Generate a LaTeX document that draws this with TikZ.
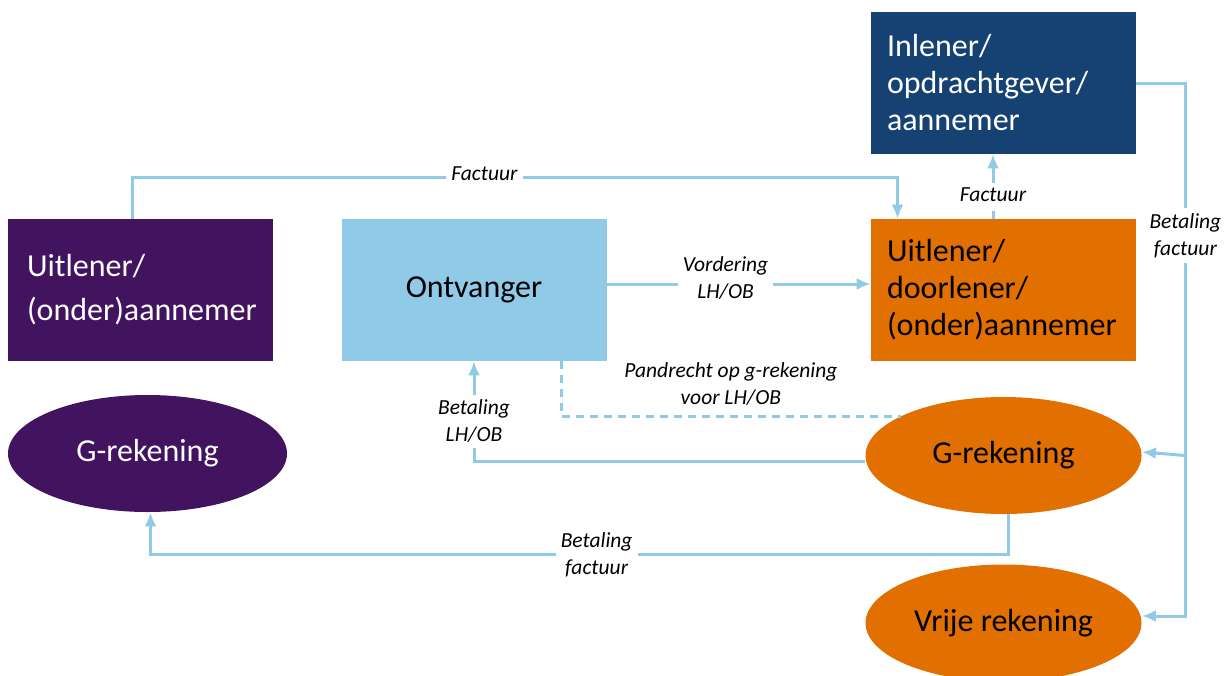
\documentclass[tikz,border=0pt]{standalone}
\usepackage{fontspec}
\setmainfont{Carlito}
\usetikzlibrary{shapes, arrows, positioning, fit, calc, arrows.meta}

\definecolor{roPurple}{HTML}{42145F}
\definecolor{roSky}{HTML}{8FCAE7}
\definecolor{roOrange}{HTML}{E17000}
\definecolor{roNavy}{HTML}{154273}

\begin{document}
\begin{tikzpicture}[x=0.5pt, y=-0.5pt, >={Latex[length=7pt, width=6pt]},
  box/.style={rectangle, minimum width=132.5pt, minimum height=71pt, inner xsep=8pt, inner ysep=0pt,
    text width=116.5pt, align=left, font=\fontsize{16}{18.5}\selectfont},
  acct/.style={ellipse, minimum width=138pt, minimum height=58.5pt, inner sep=0pt,
    font=\fontsize{16}{18}\selectfont},
  link/.style={draw=roSky, line width=1.5pt},
  lbl/.style={fill=white, align=center, inner sep=2.5pt, font=\itshape\fontsize{10.75}{13.5}\selectfont}]
  \useasboundingbox (0,0) rectangle (1224,675);

  % boxes
  \node[box, fill=roPurple, text=white, inner xsep=9.5pt, text width=113.5pt, font=\fontsize{16}{22}\selectfont] (uitl) at (140.5,290) {Uitlener/\\(onder)aannemer};
  \node[box, fill=roSky, align=center] (ontv) at (474,290) {Ontvanger};
  \node[box, fill=roOrange] (doorl) at (1003.5,290) {Uitlener/\\doorlener/\\(onder)aannemer};
  \node[box, fill=roNavy, text=white] (inl) at (1003.5,83) {Inlener/\\opdrachtgever/\\aannemer};

  % accounts
  \node[acct, fill=roPurple, text=white, minimum width=139.5pt] (gpur) at (147.5,453.5) {G-rekening};
  \node[acct, fill=roOrange] (gor) at (1003.5,455.5) {G-rekening};
  \node[acct, fill=roOrange] (vrij) at (1003.5,623) {Vrije rekening};

  % flows
  \draw[link, ->] ([xshift=-4pt]uitl.north) -- ++(0,-41) -| node[lbl, pos=0.23, yshift=2pt] {Factuur} ([xshift=-53pt]doorl.north);
  \node[lbl] (fct) at (993,195) {Factuur};
  \draw[link, dash pattern=on 4pt off 3pt] ([xshift=-5.25pt]doorl.north) -- (fct.south);
  \draw[link, ->] (fct.north) -- (fct.north |- inl.south);
  \draw[link, ->] ([yshift=3pt]ontv.east) -- node[lbl, pos=0.45, yshift=3pt] {Vordering\\LH/OB} ([yshift=3pt]doorl.west);
  \draw[link, ->] (inl.east) -- ++(49,0) coordinate (rt) |- node[lbl, pos=0.143] {Betaling\\factuur} ([yshift=3.5pt]vrij.east);
  \draw[link, ->] (rt |- gor.east) -- ([yshift=1.75pt]gor.east);
  \draw[link, ->] ([yshift=-2.75pt]gor.west) -| node[lbl, pos=0.7] {Betaling\\LH/OB} (ontv.south);
  \draw[link, dash pattern=on 4pt off 3pt] ([xshift=43.5pt]ontv.south) |- node[pos=0.75, anchor=south, align=center, inner sep=4.5pt, font=\itshape\fontsize{10.75}{13.5}\selectfont] {Pandrecht op g-rekening\\voor LH/OB} (gor.159);
  \draw[link, ->] ([xshift=2.5pt]gor.south) -- ++(0,40) -| node[lbl, pos=0.24] {Betaling\\factuur} ([xshift=1.5pt]gpur.south);
\end{tikzpicture}
\end{document}
